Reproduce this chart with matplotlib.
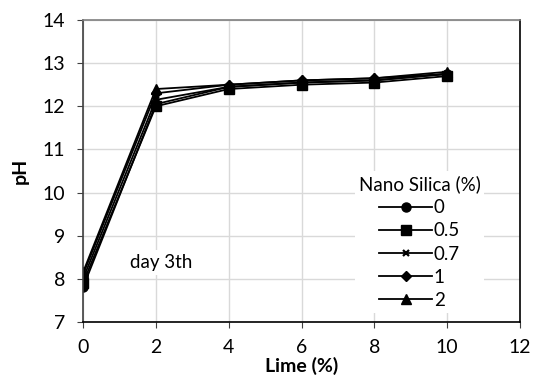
import matplotlib
matplotlib.use("Agg")
import matplotlib.pyplot as plt

plt.rcParams['font.family'] = ['Lato', 'DejaVu Sans']

# Data
lime = [0, 2, 4, 6, 8, 10]
nano_labels = ['0', '0.5', '0.7', '1', '2']
ph_0 = [7.8, 12.05, 12.45, 12.55, 12.6, 12.75]
ph_05 = [7.9, 12.0, 12.4, 12.5, 12.55, 12.7]
ph_07 = [8.0, 12.15, 12.45, 12.55, 12.6, 12.75]
ph_1 = [8.1, 12.3, 12.5, 12.6, 12.65, 12.75]
ph_2 = [8.15, 12.4, 12.5, 12.6, 12.65, 12.8]
markers = ['o', 's', 'x', 'D', '^']
sizes = [6.5, 6.5, 5, 5, 6.5]

fig = plt.figure(figsize=(5.33, 3.76), dpi=100)
ax = fig.add_axes([83 / 533, 1 - 322 / 376, (520 - 83) / 533, (322 - 20) / 376])

for vals, lab, m, s in zip([ph_0, ph_05, ph_07, ph_1, ph_2], nano_labels, markers, sizes):
    ax.plot(lime, vals, color='black', lw=1.3, marker=m, ms=s,
            mew=1.6 if m == 'x' else 1, label=lab)

ax.set_xlim(0, 12)
ax.set_ylim(7, 14)
ax.set_xticks(range(0, 13, 2))
ax.set_yticks(range(7, 15))
ax.grid(True, color='#d9d9d9', lw=1)
ax.set_axisbelow(True)
ax.tick_params(labelsize=14, length=4, color='#404040')
ax.tick_params(axis='x', pad=8)
ax.tick_params(axis='y', pad=9)
ax.spines['top'].set_color('#7f7f7f')
ax.spines['right'].set_color('black')
ax.spines['left'].set_color('#404040')
ax.spines['bottom'].set_color('black')
for sp in ax.spines.values():
    sp.set_linewidth(1.2)

ax.set_xlabel('Lime (%)', fontsize=14, fontweight='bold', labelpad=1)
ax.set_ylabel('pH', fontsize=14, fontweight='bold', labelpad=10)

ax.text(1.3, 8.25, 'day 3th', fontsize=13.5,
        bbox=dict(facecolor='white', edgecolor='none', pad=3))

leg = ax.legend(title='Nano Silica (%)', loc='lower right', bbox_to_anchor=(0.94, 0.0),
                fontsize=13.5, title_fontsize=13.5, frameon=True, framealpha=1,
                edgecolor='none', facecolor='white', handlelength=2.8,
                handletextpad=0.1, labelspacing=0.33, borderpad=0.2)

fig.savefig('out.png', dpi=100)
